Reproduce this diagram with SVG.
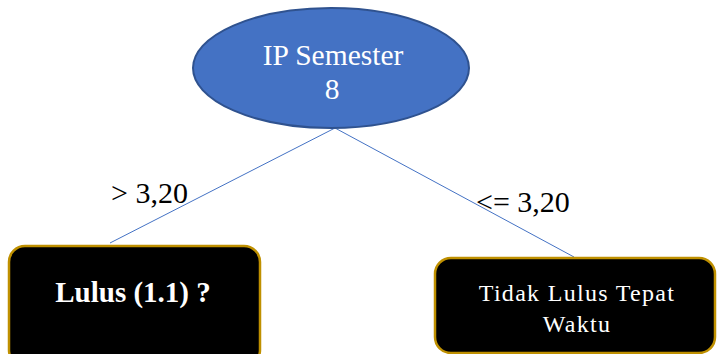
<svg xmlns="http://www.w3.org/2000/svg" width="719" height="354" viewBox="0 0 719 354">
<style>
.box{fill:#000;stroke:#BF9000;stroke-width:2.5}
.lbl{font-family:"Liberation Serif","Times New Roman",serif;fill:#000;font-size:30px}
.wt{font-family:"Liberation Serif","Times New Roman",serif;fill:#fff;text-anchor:middle}
.edge{stroke:#4472C4;stroke-width:1;fill:none}
</style>
<rect width="719" height="354" fill="#fff"/>
<g id="connectors">
<line class="edge" x1="335" y1="128" x2="110" y2="243"/>
<line class="edge" x1="335" y1="128" x2="574" y2="257"/>
</g>
<g id="root">
<ellipse cx="331" cy="68" rx="138" ry="60" fill="#4472C4" stroke="#2F528F" stroke-width="2"/>
<text class="wt" x="333" y="65" font-size="29.5">IP Semester</text>
<text class="wt" x="332" y="99" font-size="29.5">8</text>
</g>
<g id="label-left"><text class="lbl" x="111" y="203">&gt; 3,20</text></g>
<g id="label-right"><text class="lbl" x="476" y="212">&lt;= 3,20</text></g>
<g id="node-left">
<rect class="box" x="9" y="246" width="251" height="120" rx="16"/>
<text class="wt" x="133" y="302" font-size="29" font-weight="bold">Lulus (1.1) ?</text>
</g>
<g id="node-right">
<rect class="box" x="435" y="258" width="280" height="95" rx="16"/>
<text class="wt" x="577" y="301" font-size="24" letter-spacing="1.3">Tidak Lulus Tepat</text>
<text class="wt" x="577" y="332" font-size="24" letter-spacing="1.3">Waktu</text>
</g>
</svg>
